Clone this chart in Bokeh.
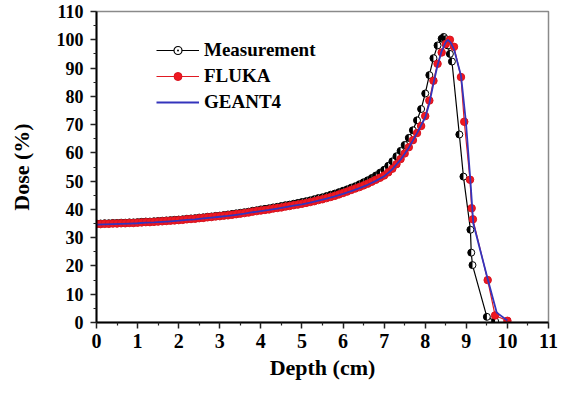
import math
from bokeh.plotting import figure
from bokeh.models import ColumnDataSource, Legend, LegendItem, FixedTicker, Range1d
from bokeh.embed import file_html
from bokeh.resources import INLINE

# ---------------- data ----------------
meas_depth = [0.0, 0.1, 0.2, 0.3, 0.4, 0.5, 0.6, 0.7, 0.8, 0.9,
              1.0, 1.1, 1.2, 1.3, 1.4, 1.5, 1.6, 1.7, 1.8, 1.9,
              2.0, 2.1, 2.2, 2.3, 2.4, 2.5, 2.6, 2.7, 2.8, 2.9,
              3.0, 3.1, 3.2, 3.3, 3.4, 3.5, 3.6, 3.7, 3.8, 3.9,
              4.0, 4.1, 4.2, 4.3, 4.4, 4.5, 4.6, 4.7, 4.8, 4.9,
              5.0, 5.1, 5.2, 5.3, 5.4, 5.5, 5.6, 5.7, 5.8, 5.9,
              6.0, 6.1, 6.2, 6.3, 6.4, 6.5, 6.6, 6.7, 6.8, 6.9,
              7.0, 7.1, 7.2, 7.3, 7.4, 7.5, 7.6, 7.7, 7.8, 7.9,
              8.0, 8.1, 8.2, 8.3, 8.4, 8.45, 8.5, 8.55, 8.6, 8.65,
              8.83, 8.93, 9.1, 9.12, 9.15, 9.5, 9.7]
meas_dose = [35.0, 35.0, 35.1, 35.1, 35.2, 35.2, 35.3, 35.3, 35.4, 35.4,
             35.5, 35.6, 35.7, 35.7, 35.8, 35.9, 36.0, 36.1, 36.2, 36.3,
             36.4, 36.5, 36.7, 36.8, 36.9, 37.1, 37.2, 37.4, 37.5, 37.7,
             37.8, 38.0, 38.2, 38.4, 38.6, 38.8, 39.0, 39.2, 39.5, 39.7,
             40.0, 40.2, 40.4, 40.7, 40.9, 41.2, 41.5, 41.7, 42.0, 42.3,
             42.6, 42.9, 43.2, 43.6, 44.0, 44.3, 44.7, 45.2, 45.6, 46.1,
             46.6, 47.1, 47.7, 48.2, 48.9, 49.6, 50.3, 51.1, 52.0, 53.0,
             54.0, 55.4, 57.0, 58.8, 60.7, 62.8, 65.3, 68.0, 71.5, 75.5,
             81.0, 87.5, 93.5, 98.0, 100.4, 101.0, 100.2, 98.0, 95.0, 92.3,
             66.5, 51.6, 32.8, 24.7, 20.3, 2.0, 0.5]

fluka_depth = [0.0, 0.1, 0.2, 0.3, 0.4, 0.5, 0.6, 0.7, 0.8, 0.9,
               1.0, 1.1, 1.2, 1.3, 1.4, 1.5, 1.6, 1.7, 1.8, 1.9,
               2.0, 2.1, 2.2, 2.3, 2.4, 2.5, 2.6, 2.7, 2.8, 2.9,
               3.0, 3.1, 3.2, 3.3, 3.4, 3.5, 3.6, 3.7, 3.8, 3.9,
               4.0, 4.1, 4.2, 4.3, 4.4, 4.5, 4.6, 4.7, 4.8, 4.9,
               5.0, 5.1, 5.2, 5.3, 5.4, 5.5, 5.6, 5.7, 5.8, 5.9,
               6.0, 6.1, 6.2, 6.3, 6.4, 6.5, 6.6, 6.7, 6.8, 6.9,
               7.0, 7.1, 7.2, 7.3, 7.4, 7.5, 7.6, 7.7, 7.8, 7.9,
               8.0, 8.1, 8.2, 8.3, 8.4, 8.5, 8.6, 8.7, 8.87, 8.95,
               9.09, 9.13, 9.16, 9.52, 9.7, 10.0]
fluka_dose = [34.8, 34.8, 34.9, 34.9, 35.0, 35.0, 35.1, 35.1, 35.2, 35.2,
              35.3, 35.4, 35.5, 35.5, 35.6, 35.7, 35.8, 35.9, 36.0, 36.1,
              36.2, 36.3, 36.5, 36.6, 36.7, 36.9, 37.0, 37.2, 37.3, 37.5,
              37.6, 37.8, 37.9, 38.1, 38.3, 38.5, 38.7, 38.9, 39.2, 39.4,
              39.6, 39.8, 40.0, 40.3, 40.5, 40.7, 41.0, 41.2, 41.5, 41.7,
              42.0, 42.3, 42.6, 42.9, 43.3, 43.6, 44.0, 44.4, 44.8, 45.3,
              45.8, 46.3, 46.9, 47.4, 47.9, 48.5, 49.1, 49.8, 50.5, 51.2,
              52.0, 53.1, 54.4, 56.0, 57.8, 59.8, 62.0, 64.5, 67.0, 69.5,
              73.0, 78.5, 85.5, 91.5, 95.5, 98.5, 100.0, 97.5, 86.8, 71.0,
              50.5, 40.4, 36.5, 15.0, 2.5, 0.6]

geant_depth = [0.0, 0.2, 0.4, 0.6, 0.8, 1.0, 1.2, 1.4, 1.6, 1.8,
               2.0, 2.2, 2.4, 2.6, 2.8, 3.0, 3.2, 3.4, 3.6, 3.8,
               4.0, 4.2, 4.4, 4.6, 4.8, 5.0, 5.2, 5.4, 5.6, 5.8,
               6.0, 6.2, 6.4, 6.6, 6.8, 7.0, 7.2, 7.4, 7.6, 7.8,
               8.0, 8.1, 8.2, 8.3, 8.4, 8.5, 8.55, 8.62, 8.7, 8.87,
               8.99, 9.1, 9.17, 9.52, 9.74, 10.0]
geant_dose = [34.6, 34.7, 34.8, 34.9, 35.0, 35.1, 35.3, 35.4, 35.6, 35.8,
              36.0, 36.3, 36.5, 36.8, 37.1, 37.4, 37.7, 38.1, 38.5, 39.0,
              39.4, 39.8, 40.3, 40.8, 41.3, 41.8, 42.4, 43.1, 43.8, 44.6,
              45.5, 46.5, 47.5, 48.7, 50.1, 51.7, 54.2, 57.6, 61.8, 67.0,
              72.5, 77.5, 84.5, 91.0, 96.0, 99.2, 100.0, 99.0, 96.6, 87.4,
              71.0, 50.0, 35.0, 15.4, 3.5, 0.7]

x_ticks = [0, 1, 2, 3, 4, 5, 6, 7, 8, 9, 10, 11]
y_ticks = [0, 10, 20, 30, 40, 50, 60, 70, 80, 90, 100, 110]
series_names = ["Measurement", "FLUKA", "GEANT4"]

# ---------------- figure ----------------
FONT = "Liberation Serif"

p = figure(width=559, height=382, output_backend="svg", toolbar_location=None,
           x_range=Range1d(0, 11), y_range=Range1d(0, 110),
           min_border_left=96, min_border_right=11, min_border_top=11,
           min_border_bottom=60)
p.xgrid.visible = False
p.ygrid.visible = False
p.outline_line_color = "#8a8a8a"
p.outline_line_width = 1.5
p.background_fill_color = "white"
p.border_fill_color = "white"

p.xaxis.ticker = FixedTicker(ticks=x_ticks,
                             minor_ticks=[t + 0.5 for t in x_ticks[:-1]])
p.yaxis.ticker = FixedTicker(ticks=y_ticks,
                             minor_ticks=[t + 5 for t in y_ticks[:-1]])

for ax in (p.xaxis[0], p.yaxis[0]):
    ax.axis_line_color = "black"
    ax.axis_line_width = 2
    ax.major_tick_line_color = "#222222"
    ax.major_tick_line_width = 1.5
    ax.minor_tick_line_color = "#222222"
    ax.minor_tick_line_width = 1.2
    ax.major_tick_in = 0
    ax.major_tick_out = 6
    ax.minor_tick_in = 0
    ax.minor_tick_out = 3
    ax.major_label_text_font = FONT
    ax.major_label_text_font_style = "bold"
    ax.major_label_text_color = "black"
    ax.axis_label_text_font = FONT
    ax.axis_label_text_font_style = "bold"
    ax.axis_label_text_color = "black"
    ax.axis_label_text_font_size = "22px"

p.xaxis.axis_label = "Depth (cm)"
p.yaxis.axis_label = "Dose (%)"
p.xaxis.major_label_text_font_size = "20px"
p.yaxis.major_label_text_font_size = "18px"
p.xaxis.major_label_standoff = 5
p.yaxis.major_label_standoff = 7
p.xaxis.axis_label_standoff = 4
p.yaxis.axis_label_standoff = 20

# ---------------- glyphs ----------------
ms = ColumnDataSource(dict(x=meas_depth, y=meas_dose))
fs = ColumnDataSource(dict(x=fluka_depth, y=fluka_dose))
gs = ColumnDataSource(dict(x=geant_depth, y=geant_dose))

m_line = p.line("x", "y", source=ms, line_color="black", line_width=1.2)
m_circ = p.scatter("x", "y", source=ms, marker="circle", size=7,
                   fill_color="white", line_color="black", line_width=1)
m_half = p.wedge("x", "y", source=ms, radius=3.5, radius_units="screen",
                 start_angle=math.pi / 2, end_angle=3 * math.pi / 2,
                 fill_color="black", line_color=None)
m_leg = p.scatter(x=[float("nan")], y=[float("nan")], marker="circle_dot",
                  fill_color="white", line_color="black", line_width=1.2)

f_line = p.line("x", "y", source=fs, line_color="#e01a22", line_width=1.2)
f_circ = p.scatter("x", "y", source=fs, marker="circle", size=7.5,
                   fill_color="#f01820", line_color="#d81420", line_width=1)

g_line = p.line("x", "y", source=gs, line_color="#3434bc", line_width=1.8)

legend = Legend(items=[
    LegendItem(label=series_names[0], renderers=[m_line, m_leg]),
    LegendItem(label=series_names[1], renderers=[f_line, f_circ]),
    LegendItem(label=series_names[2], renderers=[g_line]),
])
legend.location = (60, 209)
legend.border_line_color = None
legend.background_fill_alpha = 0
legend.padding = 0
legend.margin = 0
legend.spacing = 4
legend.glyph_width = 43
legend.glyph_height = 20
legend.label_height = 20
legend.label_standoff = 5
legend.label_text_font = FONT
legend.label_text_font_style = "bold"
legend.label_text_font_size = "19px"
legend.label_text_color = "black"
p.add_layout(legend)

open("out.html", "w").write(file_html(p, INLINE))
